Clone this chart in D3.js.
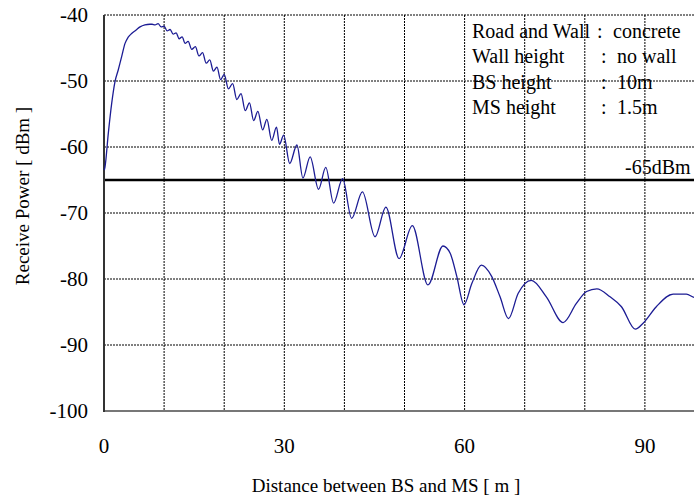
<!DOCTYPE html>
<html><head><meta charset="utf-8">
<script src="https://cdn.jsdelivr.net/npm/d3@7"></script>
<style>body{margin:0;background:#fff}svg{display:block}text{font-family:"Liberation Serif","Times New Roman","DejaVu Serif",serif;fill:#000}</style>
</head><body><div id="chart"></div>
<script>
// ---- data ----
const xTicks = [0, 30, 60, 90];
const xGrid = [10, 20, 30, 40, 50, 60, 70, 80, 90, 100];
const yTicks = [-40, -50, -60, -70, -80, -90, -100];
const threshold = -65;
const thresholdLabel = "-65dBm";
const legendLabels = ["Road and Wall", "Wall height", "BS height", "MS height"];
const legendValues = ["concrete", "no wall", "10m", "1.5m"];
const xTitle = "Distance between BS and MS [ m ]";
const yTitle = "Receive Power [ dBm ]";
const distance = [0.05,0.17,0.72,1.28,1.83,2.38,2.94,3.5,4.0,4.6,5.3,6.0,6.8,7.65,8.0,8.5,9.0,9.5,10.0,10.5,11.0,11.5,12.0,12.5,13.0,13.5,14.0,14.6,15.2,15.8,16.4,17.0,17.6,18.2,18.8,19.4,20.0,20.7,21.4,22.1,22.8,23.5,24.2,24.9,25.6,26.4,27.1,27.9,28.7,29.2,29.9,30.9,32.1,33.1,34.3,35.7,36.9,38.2,39.7,41.2,43.0,45.1,46.9,49.1,51.3,53.9,56.4,57.6,58.7,59.9,61.2,62.8,64.5,65.9,67.3,68.9,71.1,73.6,76.4,78.6,80.3,82.0,84.2,86.1,88.4,89.7,91.9,94.7,96.9,98.2,99.5];
const power = [-63.5,-63,-57.9,-53.4,-50.1,-48.3,-46.3,-44.3,-43.4,-42.8,-42.3,-41.8,-41.5,-41.4,-41.4,-41.5,-41.3,-41.8,-41.7,-42.4,-42.2,-42.9,-42.7,-43.6,-43.3,-44.3,-44.0,-45.2,-44.8,-46.2,-45.7,-47.3,-46.8,-48.5,-47.9,-49.8,-49.0,-51.2,-50.4,-52.8,-51.9,-54.5,-53.3,-56.0,-54.6,-57.4,-55.8,-59.0,-57.0,-59.6,-58.2,-62.5,-59.7,-64.7,-61.5,-66.4,-63.1,-68.5,-64.8,-70.8,-66.8,-73.6,-69.1,-76.9,-71.9,-80.9,-75.0,-76.1,-79.6,-83.9,-80.7,-77.9,-79.6,-82.7,-86.0,-82.2,-80.2,-82.7,-86.6,-83.7,-81.9,-81.5,-82.7,-84.2,-87.6,-86.7,-84.2,-82.3,-82.3,-82.8,-83.0];

// ---- chart ----
const W = 694, H = 500;
const svg = d3.select("#chart").append("svg").attr("width", W).attr("height", H);
const x = d3.scaleLinear().domain([0, 100]).range([104, 705]);
const y = d3.scaleLinear().domain([-100, -40]).range([411, 15]);
const fs = 20;

// grid
const grid = svg.append("g");
grid.selectAll("line.v").data(xGrid).join("line")
  .attr("x1", d => x(d)).attr("x2", d => x(d)).attr("y1", y(-40)).attr("y2", y(-100))
  .attr("stroke", "#000").attr("stroke-width", 1).attr("stroke-dasharray", "2,1");
grid.selectAll("line.h").data(yTicks.filter(d => d !== -100)).join("line")
  .attr("x1", x(0)).attr("x2", W).attr("y1", d => y(d)).attr("y2", d => y(d))
  .attr("stroke", "#000").attr("stroke-width", 1).attr("stroke-dasharray", "2,1");

// threshold line
svg.append("line").attr("x1", x(0)).attr("x2", W).attr("y1", y(threshold)).attr("y2", y(threshold))
  .attr("stroke", "#000").attr("stroke-width", 2.5);
svg.append("text").attr("x", 625).attr("y", y(threshold) - 6).attr("font-size", fs).text(thresholdLabel);

// axes lines
svg.append("line").attr("x1", x(0)).attr("x2", W).attr("y1", y(-100)).attr("y2", y(-100))
  .attr("stroke", "#777").attr("stroke-width", 2);
svg.append("line").attr("x1", x(0)).attr("x2", x(0)).attr("y1", y(-40)).attr("y2", y(-100) + 1)
  .attr("stroke", "#333").attr("stroke-width", 2);

// tick labels
svg.selectAll("text.yt").data(yTicks).join("text").attr("class", "yt")
  .attr("x", 88).attr("y", d => y(d)).attr("dy", "0.35em").attr("text-anchor", "end")
  .attr("font-size", 21).text(d => d);
svg.selectAll("text.xt").data(xTicks).join("text").attr("class", "xt")
  .attr("x", d => x(d)).attr("y", 453).attr("text-anchor", "middle")
  .attr("font-size", 21).text(d => d);

// titles
svg.append("text").attr("x", 386).attr("y", 492).attr("text-anchor", "middle")
  .attr("font-size", 19).text(xTitle);
svg.append("text").attr("transform", "translate(29,196) rotate(-90)").attr("text-anchor", "middle")
  .attr("font-size", 19).text(yTitle);

// legend
const lg = svg.append("g");
legendLabels.forEach((l, i) => {
  const by = 38 + i * 25.3;
  lg.append("text").attr("x", 472).attr("y", by).attr("font-size", fs).text(l);
  lg.append("text").attr("x", i === 0 ? 597 : 601).attr("y", by).attr("font-size", fs).text(":");
  lg.append("text").attr("x", i === 0 ? 613 : 617).attr("y", by).attr("font-size", fs).text(legendValues[i]);
});

// curve
const pts = distance.map((d, i) => [d, power[i]]);
svg.append("path").datum(pts)
  .attr("d", d3.line().curve(d3.curveMonotoneX).x(d => x(d[0])).y(d => y(d[1])))
  .attr("fill", "none").attr("stroke", "#1c1c94").attr("stroke-width", 1.3);
</script></body></html>
